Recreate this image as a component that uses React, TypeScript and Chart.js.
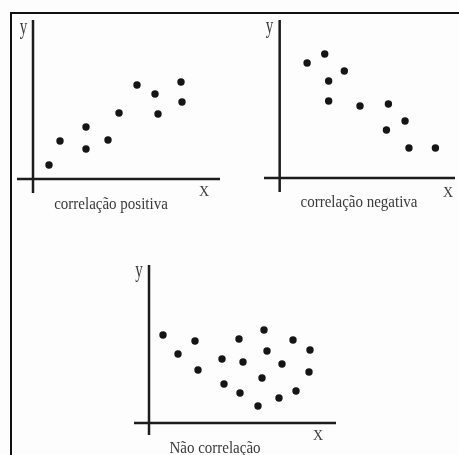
import React, { useEffect, useRef } from "react";
import { Chart, registerables } from "chart.js";

Chart.register(...registerables);

// ---------- data (arbitrary units, origin at the axes crossing) ----------
const positiveX = [1.6, 2.7, 5.3, 5.3, 7.5, 8.6, 10.4, 12.2, 12.5, 14.8, 14.9];
const positiveY = [1.4, 3.8, 5.2, 3.0, 3.9, 6.6, 9.4, 8.5, 6.5, 9.7, 7.7];

const negativeX = [2.8, 4.6, 6.6, 5.0, 5.0, 8.2, 11.1, 12.8, 10.9, 13.2, 15.9];
const negativeY = [11.5, 12.4, 10.7, 9.7, 7.7, 7.2, 7.4, 5.7, 4.8, 3.0, 3.0];

const noneX = [1.4, 2.9, 4.6, 4.9, 7.3, 7.5, 9.0, 9.4, 9.1, 11.5, 11.8, 11.3, 10.9, 13.3, 13.0, 14.4, 14.7, 16.1, 16.0];
const noneY = [8.8, 6.9, 8.2, 5.3, 6.4, 3.9, 8.4, 6.1, 3.0, 9.3, 7.2, 4.5, 1.7, 5.9, 2.5, 8.3, 3.2, 7.3, 5.1];

const axisLabelY = "y";
const axisLabelX = "X";
const captions = ["correlação positiva", "correlação negativa", "Não correlação"];

// ---------- layout / style ----------
const W = 459;
const H = 455;
const DOT = "#151515";
const AXIS = "#1c1c1c";
const TEXT = "#3a3a3a";
const FONT = '"Liberation Serif", "DejaVu Serif", serif';

type Panel = {
  xs: number[];
  ys: number[];
  xRange: [number, number];
  yRange: [number, number];
  area: { left: number; right: number; top: number; bottom: number };
  yLab: [number, number];
  xLab: [number, number];
  caption: string;
  capPos: [number, number];
};

const panels: Panel[] = [
  {
    xs: positiveX, ys: positiveY,
    xRange: [-1.6, 18.7], yRange: [-1.4, 15.9],
    area: { left: 17, right: 220, top: 20, bottom: 193 },
    yLab: [23.5, 34], xLab: [204, 196], caption: captions[0], capPos: [111, 209],
  },
  {
    xs: negativeX, ys: negativeY,
    xRange: [-1.6, 17.9], yRange: [-1.4, 15.8],
    area: { left: 264, right: 459, top: 20, bottom: 192 },
    yLab: [269.5, 33], xLab: [448, 196.5], caption: captions[1], capPos: [359, 207],
  },
  {
    xs: noneX, ys: noneY,
    xRange: [-1.5, 18.7], yRange: [-1.2, 15.8],
    area: { left: 134, right: 336, top: 265, bottom: 435 },
    yLab: [139, 277], xLab: [318, 440], caption: captions[2], capPos: [215, 453],
  },
];

function drawText(ctx: CanvasRenderingContext2D, text: string, cx: number, base: number, size: number, sy: number) {
  ctx.save();
  ctx.translate(cx, base);
  ctx.scale(1, sy);
  ctx.font = `${size}px ${FONT}`;
  ctx.fillStyle = TEXT;
  ctx.textAlign = "center";
  ctx.textBaseline = "alphabetic";
  ctx.fillText(text, 0, 0);
  ctx.restore();
}

function makePlugin(p: Panel) {
  return {
    id: "axesAndLabels",
    beforeDatasetsDraw(chart: any) {
      const { ctx, chartArea: a, scales } = chart;
      const x0 = scales.x.getPixelForValue(0);
      const y0 = scales.y.getPixelForValue(0);
      ctx.save();
      ctx.strokeStyle = AXIS;
      ctx.lineWidth = 2.5;
      ctx.beginPath();
      ctx.moveTo(x0, a.top);
      ctx.lineTo(x0, a.bottom);
      ctx.moveTo(a.left, y0);
      ctx.lineTo(a.right, y0);
      ctx.stroke();
      ctx.restore();
      drawText(ctx, axisLabelY, p.yLab[0], p.yLab[1], 15, 1.5);
      drawText(ctx, axisLabelX, p.xLab[0], p.xLab[1], 14, 1.1);
      drawText(ctx, p.caption, p.capPos[0], p.capPos[1], 15, 1.15);
    },
  };
}

function ScatterPanel({ p }: { p: Panel }) {
  const ref = useRef<HTMLCanvasElement>(null);
  useEffect(() => {
    if (!ref.current) return;
    const chart = new Chart(ref.current, {
      type: "scatter",
      data: {
        datasets: [
          {
            data: p.xs.map((x, i) => ({ x, y: p.ys[i] })),
            pointRadius: 3.7,
            pointBackgroundColor: DOT,
            pointBorderWidth: 0,
            backgroundColor: DOT,
            borderWidth: 0,
          },
        ],
      },
      options: {
        responsive: false,
        animation: false,
        devicePixelRatio: 1,
        events: [],
        layout: {
          padding: {
            left: p.area.left,
            right: W - p.area.right,
            top: p.area.top,
            bottom: H - p.area.bottom,
          },
        },
        plugins: { legend: { display: false }, tooltip: { enabled: false }, title: { display: false } },
        scales: {
          x: { type: "linear", display: false, min: p.xRange[0], max: p.xRange[1] },
          y: { type: "linear", display: false, min: p.yRange[0], max: p.yRange[1] },
        },
      },
      plugins: [makePlugin(p)],
    } as any);
    return () => chart.destroy();
  }, [p]);
  return (
    <canvas
      ref={ref}
      width={W}
      height={H}
      style={{ position: "absolute", left: 0, top: 0, width: W, height: H }}
    />
  );
}

export default function App() {
  return (
    <div style={{ position: "absolute", left: 0, top: 0, width: W, height: H, background: "#fdfdfd", overflow: "hidden" }}>
      <div
        style={{
          position: "absolute",
          left: 10,
          top: 12,
          right: 0,
          bottom: 0,
          borderTop: "2px solid #111",
          borderLeft: "2px solid #111",
        }}
      />
      {panels.map((p, i) => (
        <ScatterPanel key={i} p={p} />
      ))}
    </div>
  );
}
